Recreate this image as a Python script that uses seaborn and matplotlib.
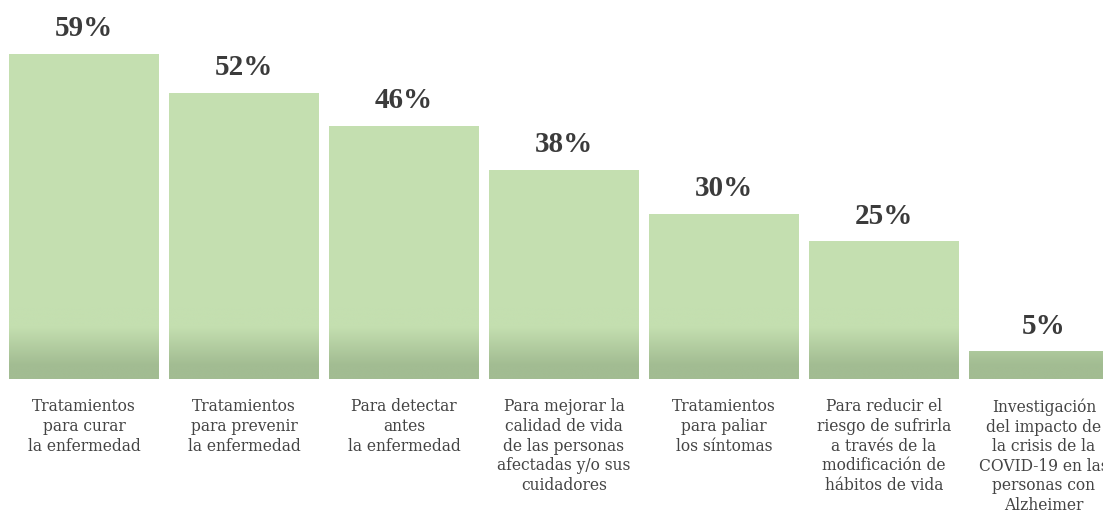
import numpy as np
import pandas as pd
import matplotlib
matplotlib.use("Agg")
import matplotlib.pyplot as plt
import seaborn as sns
from matplotlib.colors import LinearSegmentedColormap

# -------------------------------
# Data
# -------------------------------
categories = [
    "Tratamientos\npara curar\nla enfermedad",
    "Tratamientos\npara prevenir\nla enfermedad",
    "Para detectar\nantes\nla enfermedad",
    "Para mejorar la\ncalidad de vida\nde las personas\nafectadas y/o sus\ncuidadores",
    "Tratamientos\npara paliar\nlos síntomas",
    "Para reducir el\nriesgo de sufrirla\na través de la\nmodificación de\nhábitos de vida",
    "Investigación\ndel impacto de\nla crisis de la\nCOVID-19 en las\npersonas con\nAlzheimer",
]
values = [59, 52, 46, 38, 30, 25, 5]

df = pd.DataFrame({"cat": categories, "val": values})

light = "#c4dfb0"
dark = "#a2bc92"
text_dark = "#3b3b3b"
text_gray = "#444444"

sns.set_theme(style="white")
plt.rcParams["font.family"] = ["Liberation Serif", "DejaVu Serif"]

fig = plt.figure(figsize=(11.03, 5.13), dpi=100)
ax = fig.add_axes([0, 134 / 513, 1, 379 / 513])

sns.barplot(data=df, x="cat", y="val", color=light, width=0.9375,
            saturation=1, ax=ax, edgecolor="none")

# gradient towards the bottom of each bar
grad_top = 13
cmap = LinearSegmentedColormap.from_list(
    "g", [(0, dark), (2.5 / grad_top, dark), (9.5 / grad_top, light), (1, light)])
grad = np.linspace(0, 1, 256).reshape(-1, 1)
for p in ax.patches:
    x0 = p.get_x()
    x1 = x0 + p.get_width()
    im = ax.imshow(grad, cmap=cmap, extent=[x0, x1, 0, grad_top],
                   origin="lower", aspect="auto", zorder=3)
    im.set_clip_path(p)

# value labels
for i, v in enumerate(values):
    ax.text(i, v + 2.1, f"{v}%", ha="center", va="bottom", fontsize=21,
            fontweight="bold", color=text_dark, zorder=4)

# category labels
ax.set_xticks(range(len(categories)))
ax.set_xticklabels(categories, fontsize=11.2, color=text_gray,
                   linespacing=1.2, family=["DejaVu Serif"])
ax.tick_params(axis="x", length=0, pad=14)
ax.set_xlabel("")
ax.set_ylabel("")
ax.set_yticks([])
ax.set_xlim(-0.525, 6.369)
ax.set_ylim(0, 68.8)
sns.despine(ax=ax, left=True, bottom=True)

fig.savefig("out.png", dpi=100)
